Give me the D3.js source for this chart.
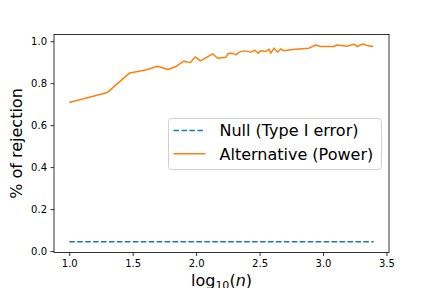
<!DOCTYPE html>
<html>
<head>
<meta charset="utf-8">
<script src="https://cdn.jsdelivr.net/npm/d3@7"></script>
<style>
  body { margin: 0; background: #fff; }
  svg { display: block; font-family: "DejaVu Sans", sans-serif; }
</style>
</head>
<body>
<svg id="chart" width="432" height="288"></svg>
<script>
// log10(n) sample sizes and rejection rates
const logN = [1.000, 1.301, 1.477, 1.602, 1.694, 1.778, 1.845, 1.903, 1.954, 1.992,
  2.034, 2.130, 2.170, 2.235, 2.254, 2.295, 2.314, 2.340, 2.379, 2.432,
  2.463, 2.489, 2.510, 2.549, 2.575, 2.589, 2.615, 2.641, 2.667, 2.693,
  2.758, 2.889, 2.942, 2.981, 3.046, 3.086, 3.111, 3.190, 3.243, 3.268,
  3.316, 3.347, 3.394];
const power = [0.708, 0.756, 0.849, 0.863, 0.881, 0.865, 0.881, 0.905, 0.898, 0.925,
  0.906, 0.940, 0.919, 0.924, 0.943, 0.941, 0.935, 0.948, 0.954, 0.948,
  0.957, 0.943, 0.954, 0.951, 0.962, 0.943, 0.967, 0.948, 0.963, 0.954,
  0.960, 0.967, 0.982, 0.975, 0.975, 0.975, 0.982, 0.976, 0.986, 0.975,
  0.987, 0.980, 0.975];
const nullLogN = [1.0, 3.4];
const nullRate = [0.044, 0.044];
const xTicks = [1.0, 1.5, 2.0, 2.5, 3.0, 3.5];
const yTicks = [0.0, 0.2, 0.4, 0.6, 0.8, 1.0];
const seriesNames = ["Null (Type I error)", "Alternative (Power)"];
const colors = ["#1f77b4", "#ff7f0e"];

const mLeft = 54, mRight = 389, mTop = 34.5, mBottom = 252.5;
const svg = d3.select('#chart');

const x = d3.scaleLinear().domain([0.88, 3.52]).range([mLeft, mRight]);
const y = d3.scaleLinear().domain([-0.007, 1.032]).range([mBottom, mTop]);

const line = d3.line().x(d => x(d[0])).y(d => y(d[1]));

// null line
svg.append('path')
  .datum(nullLogN.map((v, i) => [v, nullRate[i]]))
  .attr('d', line)
  .attr('fill', 'none')
  .attr('stroke', colors[0])
  .attr('stroke-width', 1.5)
  .attr('stroke-dasharray', '5.55,2.4');

// power line
svg.append('path')
  .datum(logN.map((v, i) => [v, power[i]]))
  .attr('d', line)
  .attr('fill', 'none')
  .attr('stroke', colors[1])
  .attr('stroke-width', 1.5)
  .attr('stroke-linejoin', 'round');

// axes
const xAxis = svg.append('g')
  .attr('transform', `translate(0,${mBottom})`)
  .call(d3.axisBottom(x).tickValues(xTicks).tickFormat(d3.format('.1f')).tickSizeInner(3.5).tickSizeOuter(0).tickPadding(3.5));
const yAxis = svg.append('g')
  .attr('transform', `translate(${mLeft},0)`)
  .call(d3.axisLeft(y).tickValues(yTicks).tickFormat(d3.format('.1f')).tickSizeInner(3.5).tickSizeOuter(0).tickPadding(3.5));
[xAxis, yAxis].forEach(a => {
  a.select('.domain').remove();
  a.selectAll('line').attr('stroke', '#000').attr('stroke-width', 0.8);
  a.selectAll('text').attr('font-size', 10).attr('fill', '#000').attr('font-family', 'DejaVu Sans');
});

// frame
svg.append('rect')
  .attr('x', mLeft).attr('y', mTop)
  .attr('width', mRight - mLeft).attr('height', mBottom - mTop)
  .attr('fill', 'none').attr('stroke', '#000').attr('stroke-width', 0.8);

// labels
svg.append('text')
  .attr('transform', `translate(22,${(mTop + mBottom) / 2}) rotate(-90)`)
  .attr('text-anchor', 'middle')
  .attr('font-size', 16)
  .text('% of rejection');

const xl = svg.append('text')
  .attr('x', (mLeft + mRight) / 2).attr('y', 285.5)
  .attr('text-anchor', 'middle')
  .attr('font-size', 16);
xl.append('tspan').text('log');
xl.append('tspan').attr('font-size', 11).attr('dy', 3).text('10');
xl.append('tspan').attr('dy', -3).text('(');
xl.append('tspan').attr('font-style', 'italic').text('n');
xl.append('tspan').text(')');

// legend
const lg = svg.append('g');
lg.append('rect')
  .attr('x', 168.5).attr('y', 118.5).attr('width', 213).attr('height', 51)
  .attr('rx', 3)
  .attr('fill', '#fff').attr('fill-opacity', 0.8)
  .attr('stroke', '#d0d0d0').attr('stroke-width', 1);
seriesNames.forEach((name, i) => {
  const cy = 130.4 + i * 23.4;
  lg.append('line')
    .attr('x1', 173.5).attr('x2', 205.5).attr('y1', cy).attr('y2', cy)
    .attr('stroke', colors[i]).attr('stroke-width', 1.5)
    .attr('stroke-dasharray', i === 0 ? '5.55,2.4' : null);
  lg.append('text')
    .attr('x', 219.5).attr('y', cy + 5.8)
    .attr('font-size', 16)
    .text(name);
});
</script>
</body>
</html>
